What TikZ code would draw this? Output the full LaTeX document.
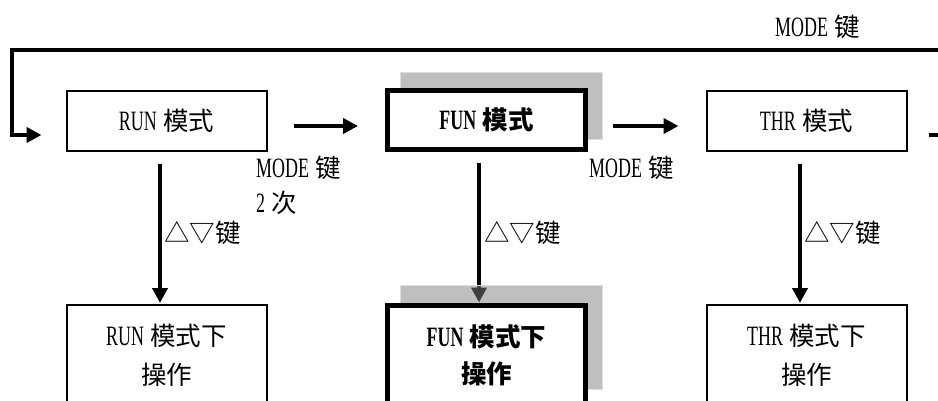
\documentclass[tikz,border=0pt]{standalone}
\usepackage{fontspec}
\setmainfont{Liberation Serif}[FakeStretch=0.64, WordSpace=1.4]
\newfontfamily\cjk{Noto Sans CJK SC}[Scale=0.91]
\usetikzlibrary{arrows.meta}
\pgfdeclarelayer{bg}
\pgfdeclarelayer{mid}
\pgfsetlayers{bg,mid,main}
\begin{document}
\begin{tikzpicture}[x=1pt,y=-1pt,
  font=\fontsize{28}{39}\selectfont,
  box/.style={draw, line width=2pt, fill=white, minimum width=200pt,
    minimum height=60pt, inner sep=0pt, align=center},
  thickbox/.style={box, line width=5pt, minimum width=198pt, minimum height=59pt,
    font=\fontsize{28}{37}\selectfont\bfseries},
  tall/.style={minimum height=101pt},
  arr/.style={line width=4pt, -{Triangle[length=15pt,width=15pt]}},
  shadowbox/.style={fill=black!50, fill opacity=0.5, draw=black!13, line width=1pt},
  lbl/.style={inner sep=0pt, anchor=west, align=left, font=\fontsize{28}{35}\selectfont}]
\useasboundingbox (0,0) rectangle (938,401);

% boxes
\node[box] (run) at (166.5,121) {RUN {\cjk 模式}};
\node[thickbox] (fun) at (486.5,120) {FUN {\cjk 模式}};
\node[box] (thr) at (806.5,121) {THR {\cjk 模式}};
\node[box,tall] (runop) at (166.5,355.5) {RUN {\cjk 模式下}\\{\cjk 操作}};
\node[thickbox,tall] (funop) at (486.5,355.5) {FUN {\cjk 模式下}\\{\cjk 操作}};
\node[box,tall] (throp) at (806.5,355.5) {THR {\cjk 模式下}\\{\cjk 操作}};

% labels
\node[lbl] (mode0) at (775,27) {MODE {\cjk 键}};
\node[lbl] (mode2) at (256,185) {MODE {\cjk 键}\\2 {\cjk 次}};
\node[lbl] (mode1) at (589,168) {MODE {\cjk 键}};
\node[lbl] (key1) at (164,233) {\cjk △▽键};
\node[lbl] (key2) at (484,233) {\cjk △▽键};
\node[lbl] (key3) at (804,233) {\cjk △▽键};

% shadows
\begin{pgfonlayer}{mid}
  \draw[shadowbox] (400.5,72.5) rectangle (602.5,139.5);
  \draw[shadowbox] (400.5,285.5) rectangle (602.5,389.5);
\end{pgfonlayer}

% connectors
\begin{pgfonlayer}{bg}
  \draw[arr, shorten <=26pt, shorten >=27pt] ([yshift=-5pt]run.east) -- ([yshift=-6pt]fun.west);
  \draw[arr, shorten <=25pt, shorten >=27pt] ([yshift=-6pt]fun.east) -- ([yshift=-5pt]thr.west);
  \draw[arr, shorten <=12pt, shorten >=1pt] ([xshift=-6.5pt]run.south) -- ([xshift=-6.5pt]runop.north);
  \draw[arr, shorten <=11pt] ([xshift=-7.5pt]fun.south) -- ([xshift=-7.5pt]funop.north);
  \draw[arr, shorten <=12pt, shorten >=1pt] ([xshift=-6.5pt]thr.south) -- ([xshift=-6.5pt]throp.north);
  \coordinate (loopstart) at ([xshift=21pt,yshift=-14pt]thr.east);
  \coordinate (loopend) at ([xshift=-24pt,yshift=-14pt]run.west);
  \draw[line width=4.5pt, line join=miter, -{Triangle[length=15pt,width=15pt]}]
    (loopstart) -- (952,135) -- (952,50) -- (12,50) -- (12,135) -- (loopend);
\end{pgfonlayer}
\end{tikzpicture}
\end{document}
